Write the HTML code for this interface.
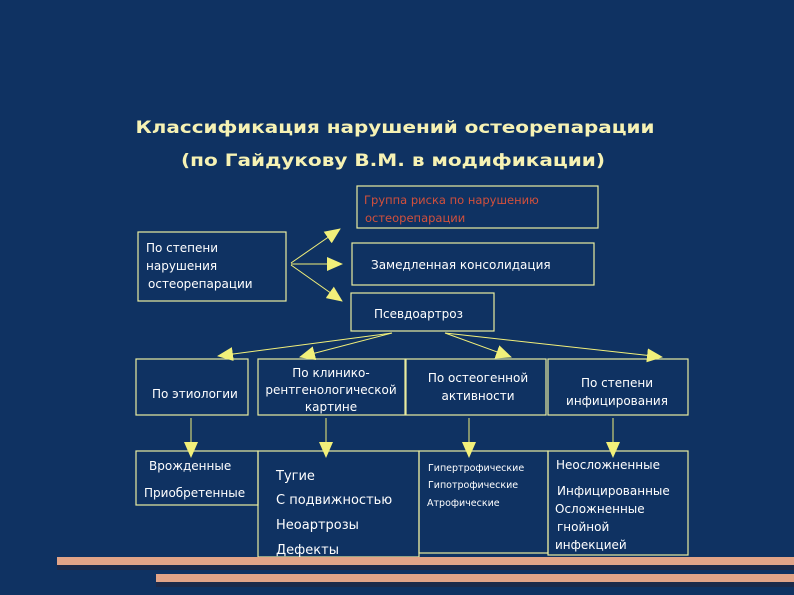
<!DOCTYPE html>
<html><head><meta charset="utf-8"><style>
html,body{margin:0;padding:0;background:#0f3262;}
svg{display:block}
text{font-family:"DejaVu Sans","Liberation Sans",sans-serif;fill:#ffffff;}
</style></head><body>
<svg width="794" height="595" viewBox="0 0 794 595" xmlns="http://www.w3.org/2000/svg">
<rect width="794" height="595" fill="#0f3262"/>
<defs><marker id="a" markerWidth="10" markerHeight="10" refX="9" refY="5" orient="auto" markerUnits="userSpaceOnUse"><path d="M0,0 L10,5 L0,10 Z" fill="#f2f07a"/></marker>
<marker id="b" markerWidth="16" markerHeight="14" refX="15" refY="7" orient="auto" markerUnits="userSpaceOnUse"><path d="M0,0 L16,7 L0,14 Z" fill="#f2f07a"/></marker></defs>
<text x="395" y="133" text-anchor="middle" font-size="17" font-weight="bold" style="fill:#f6f2b4" textLength="519" lengthAdjust="spacingAndGlyphs">Классификация нарушений остеорепарации</text>
<text x="393" y="166" text-anchor="middle" font-size="17" font-weight="bold" style="fill:#f6f2b4" textLength="424" lengthAdjust="spacingAndGlyphs">(по Гайдукову В.М. в модификации)</text>
<g fill="none" stroke="#e8eca0" stroke-width="1.2">
<rect x="357" y="186" width="241" height="42"/>
<rect x="352" y="243" width="242" height="42"/>
<rect x="351" y="293" width="143" height="38"/>
<rect x="138" y="232" width="148" height="69"/>
<rect x="136" y="359" width="112" height="56"/>
<rect x="258" y="359" width="147" height="56"/>
<rect x="406" y="359" width="140" height="56"/>
<rect x="548" y="359" width="140" height="56"/>
<rect x="136" y="451" width="122" height="54"/>
<rect x="258" y="451" width="161" height="106"/>
<rect x="419" y="451" width="129" height="102"/>
<rect x="548" y="451" width="140" height="104"/>
</g>
<g stroke="#f2f07a" stroke-width="1" fill="none">
<line x1="291" y1="263" x2="340" y2="229" marker-end="url(#b)"/>
<line x1="291" y1="264" x2="342" y2="264" marker-end="url(#b)"/>
<line x1="291" y1="265" x2="342" y2="301" marker-end="url(#b)"/>
<line x1="392" y1="333" x2="218" y2="356" marker-end="url(#b)"/>
<line x1="392" y1="333" x2="300" y2="357" marker-end="url(#b)"/>
<line x1="445" y1="333" x2="511" y2="357" marker-end="url(#b)"/>
<line x1="445" y1="333" x2="662" y2="357" marker-end="url(#b)"/>
<line x1="191" y1="418" x2="191" y2="457" marker-end="url(#b)"/>
<line x1="326" y1="418" x2="326" y2="457" marker-end="url(#b)"/>
<line x1="469" y1="418" x2="469" y2="457" marker-end="url(#b)"/>
<line x1="613" y1="418" x2="613" y2="457" marker-end="url(#b)"/>
</g>
<g font-size="12">
<text x="364" y="204" style="fill:#d2503c" font-size="11.5">Группа риска по нарушению</text>
<text x="365" y="222" style="fill:#d2503c" font-size="11.5">остеорепарации</text>
<text x="371" y="269">Замедленная консолидация</text>
<text x="374" y="318">Псевдоартроз</text>
<text x="146" y="252">По степени</text>
<text x="146" y="270">нарушения</text>
<text x="148" y="288">остеорепарации</text>
<text x="152" y="398">По этиологии</text>
<text x="331" y="377" text-anchor="middle">По клинико-</text>
<text x="331" y="394" text-anchor="middle">рентгенологической</text>
<text x="331" y="411" text-anchor="middle">картине</text>
<text x="478" y="382" text-anchor="middle">По остеогенной</text>
<text x="478" y="400" text-anchor="middle">активности</text>
<text x="617" y="387" text-anchor="middle">По степени</text>
<text x="617" y="405" text-anchor="middle">инфицирования</text>
<text x="149" y="470">Врожденные</text>
<text x="144" y="497">Приобретенные</text>
<text x="276" y="480" font-size="13">Тугие</text>
<text x="276" y="504" font-size="13">С подвижностью</text>
<text x="276" y="529" font-size="13">Неоартрозы</text>
<text x="276" y="554" font-size="13">Дефекты</text>
<text x="428" y="471" font-size="9.5">Гипертрофические</text>
<text x="428" y="488" font-size="9.5">Гипотрофические</text>
<text x="427" y="506" font-size="9.5">Атрофические</text>
<text x="556" y="469">Неосложненные</text>
<text x="557" y="495">Инфицированные</text>
<text x="555" y="513">Осложненные</text>
<text x="557" y="531">гнойной</text>
<text x="555" y="549">инфекцией</text>
</g>
<rect x="57" y="565" width="737" height="5" fill="#1c2a4a"/>
<rect x="57" y="557" width="737" height="8" fill="#e2a488"/>
<rect x="156" y="582" width="638" height="5" fill="#1c2a4a"/>
<rect x="156" y="574" width="638" height="8" fill="#e2a488"/>
</svg>
</body></html>
